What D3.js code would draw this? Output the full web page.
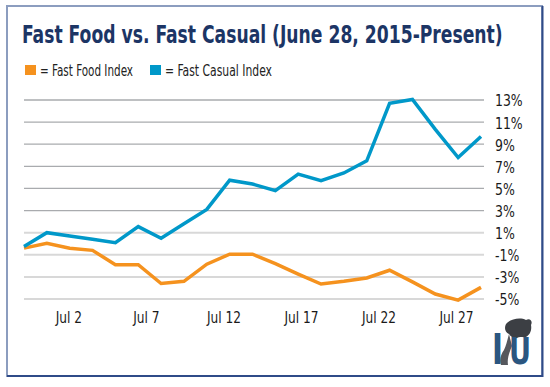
<!DOCTYPE html>
<html>
<head>
<meta charset="utf-8">
<script src="https://cdn.jsdelivr.net/npm/d3@7"></script>
<style>
  body { margin: 0; background: #fff; }
  svg text { font-family: "Liberation Sans Narrow", "DejaVu Sans Condensed", "Roboto", sans-serif; }
</style>
</head>
<body>
<div id="chart"></div>
<script>
const width = 550;
const height = 387;

// trading days shown on the chart
const days = ["2015-06-29", "2015-06-30", "2015-07-01", "2015-07-02", "2015-07-06",
              "2015-07-07", "2015-07-08", "2015-07-09", "2015-07-10", "2015-07-13",
              "2015-07-14", "2015-07-15", "2015-07-16", "2015-07-17", "2015-07-20",
              "2015-07-21", "2015-07-22", "2015-07-23", "2015-07-24", "2015-07-27",
              "2015-07-28"];
const fastFood = [-0.4, 0.05, -0.4, -0.6, -1.9, -1.9, -3.6, -3.4, -1.85, -0.95,
                  -0.95, -1.8, -2.75, -3.65, -3.4, -3.1, -2.4, -3.45, -4.55, -5.1, -3.95];
const fastCasual = [-0.25, 1.0, 0.7, 0.4, 0.1, 1.55, 0.5, 1.8, 3.1, 5.75,
                    5.4, 4.8, 6.3, 5.7, 6.4, 7.5, 12.7, 13.05, 10.35, 7.8, 9.7];
const yTicks = [13, 11, 9, 7, 5, 3, 1, -1, -3, -5];
const xTicks = ["2015-07-02", "2015-07-07", "2015-07-12", "2015-07-17", "2015-07-22", "2015-07-27"];
const seriesNames = ["Fast Food Index", "Fast Casual Index"];

const orange = "#f5921e";
const blue = "#0098c9";
const navy = "#1c3565";

// squeeze text horizontally to get the narrow look of the original
function squeeze(sel, k) {
  sel.each(function() {
    const w = this.getComputedTextLength();
    d3.select(this).attr("textLength", w * k).attr("lengthAdjust", "spacingAndGlyphs");
  });
}

const svg = d3.select("#chart")
              .append("svg")
              .attr("width", width)
              .attr("height", height);

// frame
svg.append("rect")
   .attr("x", 7).attr("y", 6)
   .attr("width", 535).attr("height", 370)
   .attr("fill", "#fff")
   .attr("stroke", "#8c9dbf")
   .attr("stroke-width", 2);
svg.append("path")
   .attr("d", "M542.5,6V376H7")
   .attr("fill", "none")
   .attr("stroke", "#2f4b88")
   .attr("stroke-width", 2);

// title, scaled down sideways to the width of the original
const titleG = svg.append("g");
const title = titleG.append("text")
   .attr("font-size", 25.5)
   .attr("font-weight", "bold")
   .attr("fill", navy)
   .text("Fast Food vs. Fast Casual (June 28, 2015-Present)");
const titleW = title.node().getComputedTextLength();
titleG.attr("transform", `translate(22,43) scale(${481 / titleW},1)`);

// legend
const legend = svg.append("g");
const legendPos = [{x: 25, w: 93}, {x: 150, w: 107}];
seriesNames.forEach((name, i) => {
  const g = legend.append("g").attr("transform", `translate(${legendPos[i].x},65)`);
  g.append("rect").attr("width", 11).attr("height", 10).attr("fill", i === 0 ? orange : blue);
  g.append("text")
   .attr("x", 15).attr("y", 10.5)
   .attr("font-size", 15)
   .attr("fill", "#222")
   .attr("textLength", legendPos[i].w)
   .attr("lengthAdjust", "spacingAndGlyphs")
   .text("= " + name);
});

const x = d3.scalePoint().domain(days).range([24, 481]);
const parse = d3.timeParse("%Y-%m-%d");
// calendar axis under the chart
const xTime = d3.scaleTime()
                .domain([new Date(2015, 5, 29, 3, 20), new Date(2015, 6, 28, 14, 40)])
                .range([24, 481]);
const y = d3.scaleLinear().domain([-5, 13]).range([299, 100]);

// gridlines
svg.append("g")
   .selectAll("line")
   .data(yTicks)
   .join("line")
   .attr("x1", 24).attr("x2", 484)
   .attr("y1", d => y(d)).attr("y2", d => y(d))
   .attr("stroke", d => d >= 3 ? "#a9abae" : "#d8d8d8")
   .attr("stroke-width", d => d >= 3 ? 1.3 : 2);

// y axis on the right
svg.append("g")
   .attr("transform", "translate(484,0)")
   .call(d3.axisRight(y).tickValues(yTicks).tickSize(0).tickPadding(11).tickFormat(d => d + "%"))
   .call(g => g.select(".domain").remove())
   .call(g => g.selectAll("text")
               .attr("font-size", 16.5)
               .attr("dy", "0.36em")
               .attr("fill", "#1a1a1a")
               .attr("font-family", null)
               .call(squeeze, 0.84));

// x axis labels
svg.append("g")
   .attr("transform", "translate(0,299)")
   .call(d3.axisBottom(xTime).tickValues(xTicks.map(parse)).tickSize(0).tickFormat(d3.timeFormat("%b %-d")))
   .call(g => g.select(".domain").remove())
   .call(g => g.selectAll("text")
               .attr("y", 23.5)
               .attr("dy", 0)
               .attr("font-size", 16.5)
               .attr("fill", "#1a1a1a")
               .attr("font-family", null)
               .call(squeeze, 0.82));

const line = d3.line()
               .x((d, i) => x(days[i]))
               .y(d => y(d));

svg.append("path")
   .datum(fastFood)
   .attr("d", line)
   .attr("fill", "none")
   .attr("stroke", orange)
   .attr("stroke-width", 3.5);

svg.append("path")
   .datum(fastCasual)
   .attr("d", line)
   .attr("fill", "none")
   .attr("stroke", blue)
   .attr("stroke-width", 3.5);

// logo: grey animal behind the "IU" letters
const logo = svg.append("g").attr("transform", "translate(485,315)");
logo.append("path")
    .attr("d", "M21,9 C25,4 35,2 41,5 C45,3 48,6 46,10 C47,15 45,20 41,22 C38,23 35,21 32,23 C29,24 26,22 24,19 C20,17 19,13 21,9 Z")
    .attr("fill", "#3c3f44");
logo.append("path")
    .attr("d", "M24,19 C22,26 21,31 19,35 C16,39 14,45 16,50 L23,50 C22,44 24,38 27,31 Z")
    .attr("fill", "#55585d");
logo.append("text")
    .attr("x", 7).attr("y", 49)
    .attr("font-family", "Liberation Serif, serif")
    .attr("font-weight", "bold")
    .attr("font-size", 42)
    .attr("fill", "#2b5680")
    .attr("textLength", 11)
    .attr("lengthAdjust", "spacingAndGlyphs")
    .text("I");
logo.append("text")
    .attr("x", 24).attr("y", 49)
    .attr("font-family", "Liberation Serif, serif")
    .attr("font-weight", "bold")
    .attr("font-size", 37)
    .attr("fill", "#2b5680")
    .attr("textLength", 22)
    .attr("lengthAdjust", "spacingAndGlyphs")
    .text("U");
</script>
</body>
</html>
